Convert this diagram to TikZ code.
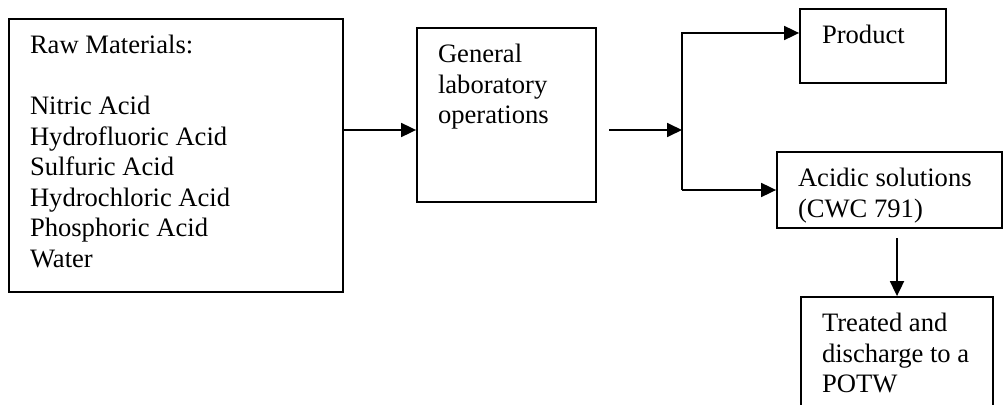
\documentclass[tikz,border=0pt]{standalone}
\usepackage{fontspec}
\setmainfont{Liberation Serif}
\usetikzlibrary{arrows.meta}
\begin{document}
\begin{tikzpicture}[x=1pt, y=-1pt, line width=1.8pt,
  box/.style={draw, rectangle, inner sep=0pt},
  txt/.style={anchor=base west, inner sep=0pt, align=left,
    font=\fontsize{26.6}{30.5}\selectfont},
  arr/.style={-{Triangle[length=15pt, width=14pt]}}]
\useasboundingbox (0,0) rectangle (1003,404);
\clip (0,0) rectangle (1003,404);

% process boxes
\node[box, minimum width=334, minimum height=273] (raw) at (176,155.5) {};
\node[box, minimum width=179, minimum height=174] (gen) at (506.5,115) {};
\node[box, minimum width=146, minimum height=74] (prod) at (873,46) {};
\node[box, minimum width=225, minimum height=76] (acid) at (889.5,190) {};
\node[box, minimum width=192, minimum height=130] (treat) at (897,362) {};

% box texts (anchored on the baseline of their last line)
\node[txt] (rawtxt) at ([shift={(21,249)}]raw.north west)
  {Raw Materials:\\[30.5pt]Nitric Acid\\Hydrofluoric Acid\\Sulfuric Acid\\Hydrochloric Acid\\Phosphoric Acid\\Water};
\node[txt] (gentxt) at ([shift={(21,96.5)}]gen.north west)
  {General\\laboratory\\operations};
\node[txt] (prodtxt) at ([shift={(22,35.5)}]prod.north west) {Product};
\node[txt] (acidtxt) at ([shift={(21,66)}]acid.north west)
  {Acidic solutions\\(CWC 791)};
\node[txt] (treattxt) at ([shift={(21,96.5)}]treat.north west)
  {Treated and\\discharge to a\\POTW};

% connectors
\coordinate (lvl) at (0,130);
\coordinate (s2) at (609,130);
\coordinate (jn) at (682,130);
\coordinate (jtop) at (682,33);
\coordinate (jbot) at (682,190);
\coordinate (ds) at (897,238);

\draw[arr] (raw.east |- lvl) -- (gen.west |- lvl);
\draw[arr] (s2) -- (jn);
\draw[arr] (jbot) |- (prod.west |- jtop);
\draw[arr] (jbot) -- (acid.west |- jbot);
\draw[arr] (ds) -- (treat.north);
\end{tikzpicture}
\end{document}
